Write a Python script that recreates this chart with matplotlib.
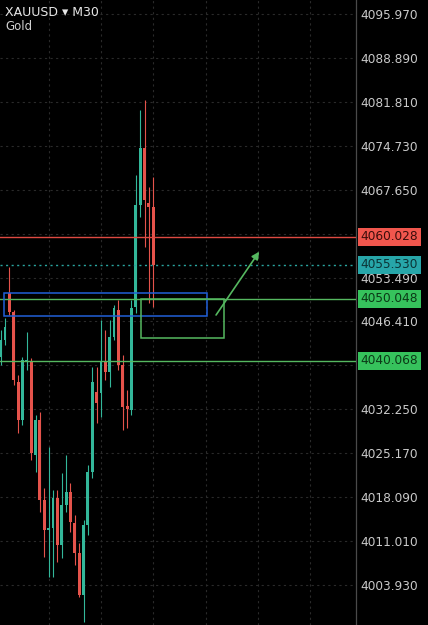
"""
XAUUSD M30 candles with the levels marked on the chart.
Writes out.png (428x625).
"""
import numpy as np
import matplotlib.pyplot as plt
from matplotlib.patches import Rectangle

# candles, oldest first (price)
opens = [4040.68, 4043.42, 4051.00, 4047.94, 4036.65, 4030.53, 4039.88, 4039.88, 4024.89,
         4030.53, 4017.63, 4012.80, 4013.12, 4017.95, 4010.38, 4016.83, 4018.92, 4013.92,
         4009.09, 4002.32, 4013.60, 4022.15, 4035.04, 4034.88, 4039.88, 4038.26, 4043.91,
         4048.26, 4039.39, 4032.78, 4032.14, 4048.74, 4065.18, 4074.37, 4065.51, 4064.86]
highs = [4045.03, 4046.97, 4055.19, 4048.26, 4037.78, 4040.68, 4044.71, 4040.52, 4031.33,
         4031.82, 4019.57, 4026.18, 4019.24, 4019.24, 4021.98, 4024.89, 4020.37, 4015.21,
         4010.70, 4014.41, 4023.27, 4039.07, 4039.07, 4046.65, 4045.03, 4046.65, 4049.06,
         4049.87, 4041.00, 4035.36, 4049.87, 4070.02, 4080.50, 4082.11, 4068.08, 4069.70]
lows = [4039.39, 4042.62, 4047.45, 4036.17, 4028.43, 4029.72, 4038.59, 4024.08, 4022.15,
        4015.70, 4008.44, 4005.22, 4005.22, 4007.64, 4008.28, 4015.70, 4012.47, 4007.15,
        4002.00, 3997.97, 4011.99, 4021.18, 4030.04, 4031.01, 4036.97, 4035.85, 4043.42,
        4038.59, 4028.92, 4029.24, 4031.33, 4047.77, 4063.25, 4058.41, 4049.39, 4048.74]
closes = [4043.42, 4045.52, 4047.94, 4036.97, 4030.53, 4040.20, 4040.20, 4025.21, 4030.53,
          4017.63, 4012.80, 4013.12, 4017.95, 4010.38, 4016.83, 4018.92, 4014.09, 4009.09,
          4002.32, 4013.60, 4022.15, 4036.65, 4033.27, 4039.88, 4038.26, 4043.91, 4048.58,
          4039.39, 4032.62, 4032.30, 4048.58, 4065.18, 4074.37, 4065.99, 4064.86, 4055.53]

# price scale (two labels sit under the level badges, so they show no text)
price_ticks = [4003.930, 4011.010, 4018.090, 4025.170, 4032.250, 4039.330, 4046.410,
               4053.490, 4060.570, 4067.650, 4074.730, 4081.810, 4088.890, 4095.970]
price_labels = ["4003.930", "4011.010", "4018.090", "4025.170", "4032.250", "", "4046.410",
                "4053.490", "", "4067.650", "4074.730", "4081.810", "4088.890", "4095.970"]
time_grid = [11, 23, 35, 47, 59, 71]

# horizontal levels
red_level = 4060.028
green_levels = [4050.048, 4040.068]
last_price = 4055.530

# drawn zones (candle index, price)
blue_zone = (0.76, 4047.30, 47.25, 4051.05)
green_zone = (32.1, 4043.74, 51.2, 4050.048)
arrow_from = (49.4, 4047.45)
arrow_to = (59.3, 4057.66)

UP = "#33b79a"
DOWN = "#e5534b"
RED = "#de4a42"
GREEN = "#55b860"
TEAL = "#2aa5a0"
BLUE = "#2160d8"
TXT = "#c9c9c9"

plt.rcParams["font.family"] = ["DejaVu Sans"]

fig = plt.figure(figsize=(4.28, 6.25), dpi=100, facecolor="black")
ax = fig.add_axes([0, 0, 356 / 428, 1])
ax.set_facecolor("black")

o = np.array(opens); c = np.array(closes)
h = np.array(highs); l = np.array(lows)
x = np.arange(len(o))
col = np.where(c >= o, UP, DOWN)

ax.vlines(x, l, h, colors=col, lw=0.8, zorder=3)
body = np.maximum(np.abs(c - o), 0.35)
ax.bar(x, body, bottom=np.minimum(o, c), width=0.66, color=col, lw=0, zorder=3)

# levels
ax.axhline(red_level, color=RED, lw=1.0, zorder=4)
for g in green_levels:
    ax.axhline(g, color=GREEN, lw=1.0, zorder=4)
ax.axhline(last_price, color=TEAL, lw=1.0, ls=(0, (1.5, 2.5)), zorder=4)

# zones
bx0, by0, bx1, by1 = blue_zone
ax.add_patch(Rectangle((bx0, by0), bx1 - bx0, by1 - by0, fill=False,
                       ec=BLUE, lw=1.1, zorder=5))
gx0, gy0, gx1, gy1 = green_zone
ax.add_patch(Rectangle((gx0, gy0), gx1 - gx0, gy1 - gy0, fill=False,
                       ec=GREEN, lw=1.1, zorder=5))
ax.annotate("", xy=arrow_to, xytext=arrow_from,
            arrowprops=dict(arrowstyle="-|>", color=GREEN, lw=1.2,
                            mutation_scale=11, shrinkA=0, shrinkB=0), zorder=6)

ax.set_xlim(-0.16, 81.5)
ax.set_ylim(3997.48, 4098.23)

ax.set_yticks(price_ticks)
ax.set_yticklabels(price_labels)
ax.yaxis.tick_right()
ax.tick_params(axis="y", length=0, pad=3.4, labelsize=8.7, labelcolor=TXT)
ax.set_xticks(time_grid)
ax.tick_params(axis="x", length=0, labelbottom=False)
ax.grid(True, color="#2a2a2a", lw=0.8, ls=(0, (2, 3)), zorder=0)

for s in ["top", "bottom", "left"]:
    ax.spines[s].set_visible(False)
ax.spines["right"].set_color("#4a4a4a")
ax.spines["right"].set_linewidth(0.9)

# price badges on the scale
tr = ax.get_yaxis_transform()
badges = [(red_level, "#f0564d", "#3a0d0b"),
          (last_price, "#27a6a9", "#0c3436"),
          (green_levels[0], "#36c25c", "#0b3816"),
          (green_levels[1], "#36c25c", "#0b3816")]
for val, bg, fg in badges:
    ax.text(1.0 + 4.7 / 356, val, f"{val:.3f}", transform=tr, ha="left", va="center",
            fontsize=8.7, color=fg, clip_on=False, zorder=10,
            bbox=dict(boxstyle="square,pad=0.22", fc=bg, ec="none"))

fig.text(5 / 428, 1 - 13 / 625, "XAUUSD \u25be M30", color="#e6e6e6", fontsize=9,
         va="center", ha="left")
fig.text(5 / 428, 1 - 27 / 625, "Gold", color="#d0d0d0", fontsize=8.5,
         va="center", ha="left")

fig.savefig("out.png", dpi=100, facecolor="black")
